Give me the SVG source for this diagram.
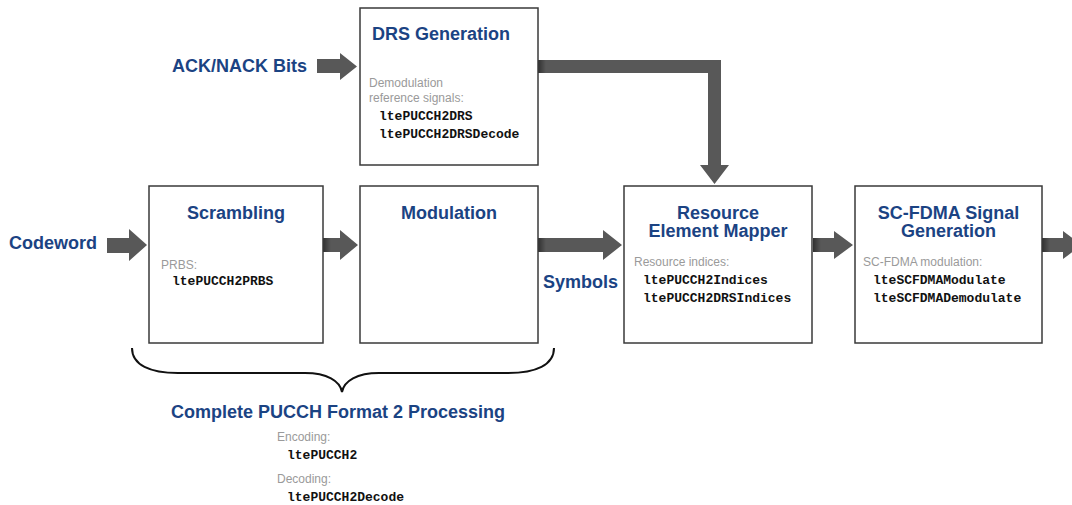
<svg xmlns="http://www.w3.org/2000/svg" width="1072" height="505" viewBox="0 0 1072 505">
<defs>
<linearGradient id="shadeL" x1="0" y1="0" x2="1" y2="0">
<stop offset="0" stop-color="#000" stop-opacity="0.45"/>
<stop offset="1" stop-color="#000" stop-opacity="0"/>
</linearGradient>
<style>
.box{fill:#fff;stroke:#3a3a3a;stroke-width:1.5}
.title{font-family:"Liberation Sans",Arial,sans-serif;font-weight:bold;font-size:18px;fill:#1b4383}
.lbl{font-family:"Liberation Sans",Arial,sans-serif;font-weight:bold;font-size:18px;fill:#1b4383}
.gray{font-family:"Liberation Sans",Arial,sans-serif;font-size:12px;fill:#9a9a9a}
.mono{font-family:"Liberation Mono","Courier New",monospace;font-weight:bold;font-size:13px;fill:#111}
.arr{fill:#585858}
.mid{text-anchor:middle}
</style>
</defs>
<rect width="1072" height="505" fill="#fff"/>

<g id="connectors">
<polygon class="arr" points="317,59 340,59 340,53 357,66.5 340,80 340,73 317,73"/>
<polygon class="arr" points="107,238 129,238 129,229 147,245 129,261 129,253 107,253"/>
<polygon class="arr" points="323,238 340,238 340,230 358,245 340,260 340,252 323,252"/>
<rect x="323" y="238" width="8" height="14" fill="url(#shadeL)"/>
<polygon class="arr" points="538,238 603,238 603,230 622,245 603,260 603,252 538,252"/>
<rect x="538" y="238" width="8" height="14" fill="url(#shadeL)"/>
<polygon class="arr" points="813,238 834,238 834,231 853,245 834,259 834,252 813,252"/>
<rect x="813" y="238" width="8" height="14" fill="url(#shadeL)"/>
<polygon class="arr" points="1042,238 1063,238 1063,231 1082,245 1063,259 1063,252 1042,252"/>
<rect x="1042" y="238" width="8" height="14" fill="url(#shadeL)"/>
<polygon class="arr" points="538,60 721,60 721,165 729,165 714.5,184 700,165 708,165 708,73 538,73"/>
<rect x="538" y="60" width="8" height="13" fill="url(#shadeL)"/>
<path d="M132,348 C132,365 150,373 178,373 L305,373 C327,373 340,381 342,392 C344,381 357,373 379,373 L508,373 C536,373 554,365 554,348" fill="none" stroke="#111" stroke-width="2"/>
</g>

<g id="labels">
<text class="lbl" x="307" y="72" text-anchor="end">ACK/NACK Bits</text>
<text class="lbl" x="9" y="249">Codeword</text>
<text class="lbl" x="543" y="288">Symbols</text>
</g>

<g id="drs">
<rect class="box" x="360" y="8" width="178" height="157"/>
<text class="title" x="372" y="40">DRS Generation</text>
<text class="gray" x="369" y="87">Demodulation</text>
<text class="gray" x="369" y="102">reference signals:</text>
<text class="mono" x="379" y="120">ltePUCCH2DRS</text>
<text class="mono" x="379" y="138">ltePUCCH2DRSDecode</text>
</g>

<g id="scrambling">
<rect class="box" x="149" y="186" width="174" height="157"/>
<text class="title mid" x="236" y="219">Scrambling</text>
<text class="gray" x="161" y="269">PRBS:</text>
<text class="mono" x="172" y="285">ltePUCCH2PRBS</text>
</g>

<g id="modulation">
<rect class="box" x="360" y="186" width="178" height="157"/>
<text class="title mid" x="449" y="219">Modulation</text>
</g>

<g id="remapper">
<rect class="box" x="624" y="186" width="188" height="157"/>
<text class="title mid" x="718" y="219">Resource</text>
<text class="title mid" x="718" y="237">Element Mapper</text>
<text class="gray" x="634" y="266">Resource indices:</text>
<text class="mono" x="643" y="284">ltePUCCH2Indices</text>
<text class="mono" x="643" y="302">ltePUCCH2DRSIndices</text>
</g>

<g id="scfdma">
<rect class="box" x="855" y="186" width="187" height="157"/>
<text class="title mid" x="948.5" y="219">SC-FDMA Signal</text>
<text class="title mid" x="948.5" y="237">Generation</text>
<text class="gray" x="863" y="266">SC-FDMA modulation:</text>
<text class="mono" x="873" y="284">lteSCFDMAModulate</text>
<text class="mono" x="873" y="302">lteSCFDMADemodulate</text>
</g>

<g id="complete">
<text class="title" x="171" y="418">Complete PUCCH Format 2 Processing</text>
<text class="gray" x="277" y="441">Encoding:</text>
<text class="mono" x="287" y="459">ltePUCCH2</text>
<text class="gray" x="277" y="483">Decoding:</text>
<text class="mono" x="287" y="501">ltePUCCH2Decode</text>
</g>
</svg>
